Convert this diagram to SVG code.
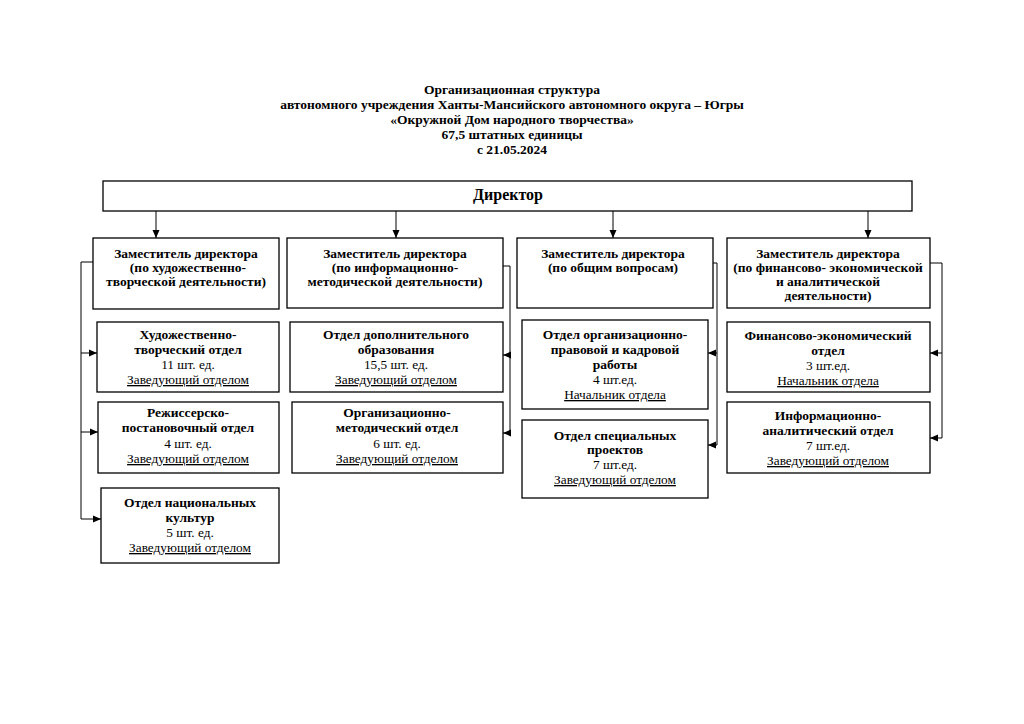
<svg xmlns="http://www.w3.org/2000/svg" width="1024" height="724" viewBox="0 0 1024 724">
<defs>
<style>
text{font-family:"Liberation Serif","Times New Roman",serif;font-size:13.3px;fill:#000;text-anchor:middle}
.b{font-weight:bold;font-size:13.5px}
.t{font-weight:bold;font-size:13.5px}
.d{font-weight:bold;font-size:16px}
.u{text-decoration:underline}
.box{fill:#fff;stroke:#000;stroke-width:1.3}
.ln{fill:none;stroke:#000;stroke-width:1}
</style>
<marker id="ah" viewBox="0 0 8 8" refX="8" refY="4" markerWidth="8" markerHeight="8" markerUnits="userSpaceOnUse" orient="auto">
<path d="M0,0.5 L8,4 L0,7.5 Z" fill="#000"/>
</marker>
</defs>
<rect width="1024" height="724" fill="#fff"/>
<g id="title">
<text class="t" x="512" y="94">Организационная структура</text>
<text class="t" x="512" y="109">автономного учреждения Ханты-Мансийского автономного округа – Югры</text>
<text class="t" x="512" y="124">«Окружной Дом народного творчества»</text>
<text class="t" x="512" y="139">67,5 штатных единицы</text>
<text class="t" x="512" y="154">с 21.05.2024</text>
</g>
<g id="connectors">
<line class="ln" x1="156" y1="211" x2="156" y2="238" marker-end="url(#ah)"/>
<line class="ln" x1="396" y1="211" x2="396" y2="238" marker-end="url(#ah)"/>
<line class="ln" x1="613" y1="211" x2="613" y2="238" marker-end="url(#ah)"/>
<line class="ln" x1="868" y1="211" x2="868" y2="238" marker-end="url(#ah)"/>
<polyline class="ln" points="93,262 81,262 81,519"/>
<line class="ln" x1="81" y1="353" x2="97" y2="353" marker-end="url(#ah)"/>
<line class="ln" x1="81" y1="432" x2="98" y2="432" marker-end="url(#ah)"/>
<line class="ln" x1="81" y1="519" x2="101" y2="519" marker-end="url(#ah)"/>
<polyline class="ln" points="503,266 510,266 510,433"/>
<line class="ln" x1="510" y1="355" x2="503" y2="355" marker-end="url(#ah)"/>
<line class="ln" x1="510" y1="433" x2="503" y2="433" marker-end="url(#ah)"/>
<polyline class="ln" points="713,263 717,263 717,445"/>
<line class="ln" x1="717" y1="353" x2="708" y2="353" marker-end="url(#ah)"/>
<line class="ln" x1="717" y1="445" x2="708" y2="445" marker-end="url(#ah)"/>
<polyline class="ln" points="930,263 942,263 942,438"/>
<line class="ln" x1="942" y1="353" x2="930" y2="353" marker-end="url(#ah)"/>
<line class="ln" x1="942" y1="438" x2="930" y2="438" marker-end="url(#ah)"/>
</g>
<g id="director">
<rect class="box" x="103" y="181" width="809" height="30"/>
<text class="d" x="508" y="200">Директор</text>
</g>
<g id="dep1">
<rect class="box" x="93" y="238" width="186" height="71"/>
<text class="b" x="186" y="258">Заместитель директора</text>
<text class="b" x="188" y="272">(по художественно-</text>
<text class="b" x="186" y="286">творческой деятельности)</text>
</g>
<g id="dep2">
<rect class="box" x="287" y="238" width="216" height="70"/>
<text class="b" x="395" y="258">Заместитель директора</text>
<text class="b" x="395" y="272">(по информационно-</text>
<text class="b" x="395" y="286">методической деятельности)</text>
</g>
<g id="dep3">
<rect class="box" x="517" y="238" width="196" height="70"/>
<text class="b" x="613" y="258">Заместитель директора</text>
<text class="b" x="613" y="272">(по общим вопросам)</text>
</g>
<g id="dep4">
<rect class="box" x="727" y="238" width="203" height="70"/>
<text class="b" x="828" y="258">Заместитель директора</text>
<text class="b" x="828" y="272">(по финансово- экономической</text>
<text class="b" x="828" y="286">и аналитической</text>
<text class="b" x="828" y="300">деятельности)</text>
</g>
<g id="hudtv">
<rect class="box" x="97" y="322" width="182" height="70"/>
<text class="b" x="188" y="339">Художественно-</text>
<text class="b" x="188" y="354">творческий отдел</text>
<text x="188" y="369">11 шт. ед.</text>
<text class="u" x="188" y="384">Заведующий отделом</text>
</g>
<g id="rezh">
<rect class="box" x="98" y="402" width="181" height="71"/>
<text class="b" x="188" y="417">Режиссерско-</text>
<text class="b" x="188" y="432">постановочный отдел</text>
<text x="188" y="448">4 шт. ед.</text>
<text class="u" x="188" y="463">Заведующий отделом</text>
</g>
<g id="nac">
<rect class="box" x="101" y="488" width="178" height="75"/>
<text class="b" x="190" y="507">Отдел национальных</text>
<text class="b" x="190" y="522">культур</text>
<text x="190" y="537">5 шт. ед.</text>
<text class="u" x="190" y="552">Заведующий отделом</text>
</g>
<g id="dop">
<rect class="box" x="290" y="322" width="213" height="70"/>
<text class="b" x="396" y="339">Отдел дополнительного</text>
<text class="b" x="396" y="354">образования</text>
<text x="396" y="369">15,5 шт. ед.</text>
<text class="u" x="396" y="384">Заведующий отделом</text>
</g>
<g id="orgmet">
<rect class="box" x="292" y="402" width="211" height="71"/>
<text class="b" x="397" y="417">Организационно-</text>
<text class="b" x="397" y="432">методический отдел</text>
<text x="397" y="448">6 шт. ед.</text>
<text class="u" x="397" y="463">Заведующий отделом</text>
</g>
<g id="orgprav">
<rect class="box" x="522" y="320" width="186" height="89"/>
<text class="b" x="615" y="339">Отдел организационно-</text>
<text class="b" x="615" y="354">правовой и кадровой</text>
<text class="b" x="615" y="369">работы</text>
<text x="615" y="384">4 шт.ед.</text>
<text class="u" x="615" y="399">Начальник отдела</text>
</g>
<g id="spec">
<rect class="box" x="522" y="420" width="186" height="78"/>
<text class="b" x="615" y="440">Отдел специальных</text>
<text class="b" x="615" y="454">проектов</text>
<text x="615" y="469">7 шт.ед.</text>
<text class="u" x="615" y="484">Заведующий отделом</text>
</g>
<g id="finek">
<rect class="box" x="727" y="322" width="203" height="70"/>
<text class="b" x="828" y="340">Финансово-экономический</text>
<text class="b" x="828" y="355">отдел</text>
<text x="828" y="370">3 шт.ед.</text>
<text class="u" x="828" y="385">Начальник отдела</text>
</g>
<g id="infan">
<rect class="box" x="727" y="402" width="203" height="71"/>
<text class="b" x="828" y="420">Информационно-</text>
<text class="b" x="828" y="435">аналитический отдел</text>
<text x="828" y="450">7 шт.ед.</text>
<text class="u" x="828" y="465">Заведующий отделом</text>
</g>
</svg>
